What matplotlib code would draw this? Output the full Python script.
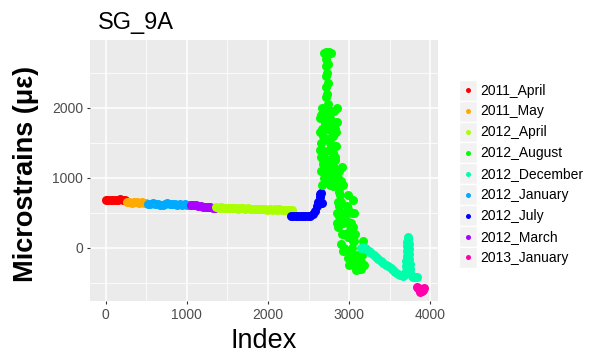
import matplotlib
matplotlib.use('Agg')
import matplotlib.pyplot as plt
from matplotlib.legend_handler import HandlerBase
from matplotlib.patches import Rectangle
from matplotlib.lines import Line2D

plt.rcParams['font.family'] = ['Liberation Sans', 'DejaVu Sans']

# ---------------- data ----------------
categories = ["2011_April", "2011_May", "2012_April", "2012_August", "2012_December",
              "2012_January", "2012_July", "2012_March", "2013_January"]
colors = ["#FF0000", "#FFAA00", "#AAFF00", "#00FF00", "#00FFAA",
          "#00AAFF", "#0000FF", "#AA00FF", "#FF00AA"]

apr2011_x = [0, 30, 60, 90, 120, 150, 180, 210, 240]
apr2011_y = [680, 690, 678, 684, 688, 680, 692, 685, 678]

may2011_x = [260, 290, 320, 350, 380, 410, 440, 470, 500]
may2011_y = [648, 655, 645, 652, 650, 640, 648, 645, 638]

jan2012_x = [520, 550, 580, 610, 640, 670, 700, 730, 760, 790, 820, 850, 880,
             910, 940, 970, 1000, 1030]
jan2012_y = [630, 625, 640, 632, 620, 605, 615, 625, 635, 628, 620, 630, 615,
             625, 618, 622, 612, 615]

mar2012_x = [1050, 1080, 1110, 1140, 1170, 1200, 1230, 1260, 1290, 1320, 1345]
mar2012_y = [612, 608, 605, 600, 595, 590, 585, 580, 578, 575, 575]

apr2012_x = [1360, 1390, 1420, 1450, 1480, 1510, 1540, 1570, 1600, 1630, 1660, 1690,
             1720, 1750, 1780, 1810, 1840, 1870, 1900, 1930, 1960, 1990, 2020, 2050,
             2080, 2110, 2140, 2170, 2200, 2230, 2260, 2290]
apr2012_y = [580, 575, 582, 570, 565, 572, 568, 575, 565, 560, 568, 562,
             558, 565, 555, 560, 552, 558, 550, 555, 548, 545, 550, 540,
             548, 545, 550, 540, 545, 538, 542, 536]

jul2012_x = [2280, 2310, 2340, 2370, 2400, 2430, 2460, 2490, 2520, 2550, 2575, 2600,
             2620, 2635, 2645, 2650, 2660]
jul2012_y = [455, 448, 452, 450, 455, 448, 452, 456, 458, 480, 530, 600,
             660, 720, 770, 790, 640]

aug2012_x = [2660, 2650, 2655, 2650, 2660, 2655, 2665, 2680, 2675, 2670, 2680, 2690,
             2700, 2695, 2700, 2705, 2710, 2715, 2720, 2715, 2720, 2715, 2690, 2720,
             2750, 2780, 2740, 2730, 2735, 2730, 2740, 2750, 2760, 2745, 2740, 2750,
             2745, 2730, 2760, 2780, 2790, 2785, 2800, 2810, 2800, 2815, 2820, 2810,
             2790, 2760, 2720, 2800, 2840, 2860, 2880, 2910, 2900, 2880, 2860, 2850,
             2845, 2860, 2870, 2880, 2890, 2900, 2910, 2920, 2910, 2905, 2920, 2940,
             2950, 2960, 2970, 2980, 2985, 2990, 2980, 2975, 2990, 3000, 3010, 3020,
             3030, 3050, 3055, 3050, 3045, 3040, 3050, 3070, 3085, 3080, 3100, 3110,
             3120, 3140, 3150, 3160, 3170, 3165, 3150, 3180,
             2640, 2645, 2640, 2850, 2845, 2840, 2835, 2830, 2700, 2760, 2790, 2820,
             2680, 2700, 2770, 2800, 2740, 2770, 2780, 2820, 2870, 2930, 2950, 3010,
             3020, 3060, 3090, 3110, 3130, 3000, 3030, 3070]
aug2012_y = [900, 1100, 1300, 1500, 1700, 1900, 2000, 1850, 1600, 1400, 1200, 1000,
             1150, 1350, 1550, 1750, 1950, 2150, 2300, 2450, 2600, 2700, 2790, 2800,
             2800, 2790, 2620, 2500, 2350, 2200, 2050, 1950, 1850, 1700, 1550, 1400,
             1250, 1100, 1100, 1250, 1450, 1650, 1800, 1950, 1600, 1450, 1300, 1150,
             1000, 900, 950, 880, 950, 1000, 1100, 1150, 950, 800, 650, 500,
             350, 300, 450, 600, 750, 650, 500, 350, 200, 50, -50, 0,
             200, 400, 600, 750, 550, 350, 150, -50, -150, -50, 150, 350,
             500, 685, 500, 300, 100, -100, -200, -250, -315, -150, -100, -250,
             -300, -250, -200, -100, 0, 100, -300, -250,
             1400, 1650, 1850, 2000, 1800, 1650, 1450, 1250, 1800, 1500, 1200, 1050,
             1250, 1050, 1700, 1350, 950, 1000, 1950, 1700, 850, 900, 450, 250,
             -50, 100, -200, -150, -280, -250, 0, 200]

dec2012_x = [3150, 3170, 3190, 3210, 3240, 3270, 3300, 3330, 3360, 3390, 3420, 3450,
             3480, 3510, 3540, 3570, 3600, 3630, 3660, 3680, 3695, 3700, 3705, 3710,
             3712, 3715, 3718, 3720, 3730, 3735, 3738, 3740, 3742, 3745, 3748, 3755,
             3770, 3790, 3810, 3830]
dec2012_y = [0, 10, 0, -20, -40, -70, -100, -130, -160, -190, -210, -240,
             -260, -290, -320, -350, -370, -390, -400, -390, -330, -260, -190, -120,
             -50, 20, 90, 150, 120, 50, -20, -90, -160, -230, -300, -360,
             -400, -410, -420, -420]

jan2013_x = [3830, 3850, 3860, 3870, 3880, 3900, 3910, 3920]
jan2013_y = [-560, -570, -590, -630, -600, -620, -600, -580]

series = {
    "2011_April": (apr2011_x, apr2011_y),
    "2011_May": (may2011_x, may2011_y),
    "2012_January": (jan2012_x, jan2012_y),
    "2012_March": (mar2012_x, mar2012_y),
    "2012_April": (apr2012_x, apr2012_y),
    "2012_July": (jul2012_x, jul2012_y),
    "2012_August": (aug2012_x, aug2012_y),
    "2012_December": (dec2012_x, dec2012_y),
    "2013_January": (jan2013_x, jan2013_y),
}
draw_order = ["2011_April", "2011_May", "2012_January", "2012_March", "2012_April",
              "2012_July", "2012_August", "2012_December", "2013_January"]

x_ticks = [0, 1000, 2000, 3000, 4000]
y_ticks = [0, 1000, 2000]

# ---------------- figure ----------------
W, H = 606, 353
fig = plt.figure(figsize=(W / 100, H / 100), dpi=100)
ax = fig.add_axes([90 / W, (H - 301) / H, (438 - 90) / W, (301 - 40) / H])
ax.set_facecolor('#EBEBEB')
for s in ax.spines.values():
    s.set_visible(False)

cmap = dict(zip(categories, colors))
for name in draw_order:
    xs, ys = series[name]
    ax.scatter(xs, ys, s=42, c=cmap[name], linewidths=0, zorder=3)

ax.set_xlim(-195, 4095)
ax.set_ylim(-760, 2970)
ax.set_xticks(x_ticks)
ax.set_yticks(y_ticks)
ax.set_xticks([x + 500 for x in x_ticks[:-1]], minor=True)
ax.set_yticks([-500] + [y + 500 for y in y_ticks], minor=True)
ax.grid(which='major', color='white', lw=1.1)
ax.grid(which='minor', color='white', lw=0.55)
ax.set_axisbelow(True)
ax.tick_params(which='major', length=2.5, width=0.8, color='#333333',
               labelsize=10, labelcolor='#4D4D4D', pad=2.5)
ax.tick_params(which='minor', length=0)

# titles
fig.text(98 / W, 1 - 29.3 / H, 'SG_9A', fontsize=17, va='baseline', ha='left')
fig.text(264 / W, 1 - 347.7 / H, 'Index', fontsize=19.5, va='baseline', ha='center')
fig.text(33 / W, 1 - 173.6 / H, 'Microstrains (\u03bc\u03b5)', fontsize=19.5,
         fontweight='bold', rotation=90, rotation_mode='anchor',
         va='baseline', ha='center')


class KeyHandler(HandlerBase):
    def create_artists(self, legend, orig_handle, xdescent, ydescent, width, height,
                       fontsize, trans):
        r = Rectangle((-xdescent, -ydescent), width, height, facecolor='#F2F2F2',
                      edgecolor='white', lw=1.0, transform=trans)
        m = Line2D([-xdescent + width / 2], [-ydescent + height / 2], marker='o',
                   ms=3.6, color=orig_handle.get_color(), ls='', mew=0, transform=trans)
        return [r, m]


handles = [Line2D([], [], marker='o', ls='', color=cmap[c]) for c in categories]
fig.legend(handles, categories, loc='center left',
           bbox_to_anchor=(459 / W, 1 - 173.8 / H), frameon=False, fontsize=10,
           handler_map={Line2D: KeyHandler()}, handlelength=1.3, handleheight=1.94,
           labelspacing=0, handletextpad=0.25, borderpad=0, borderaxespad=0)

fig.savefig('out.png', dpi=100)
